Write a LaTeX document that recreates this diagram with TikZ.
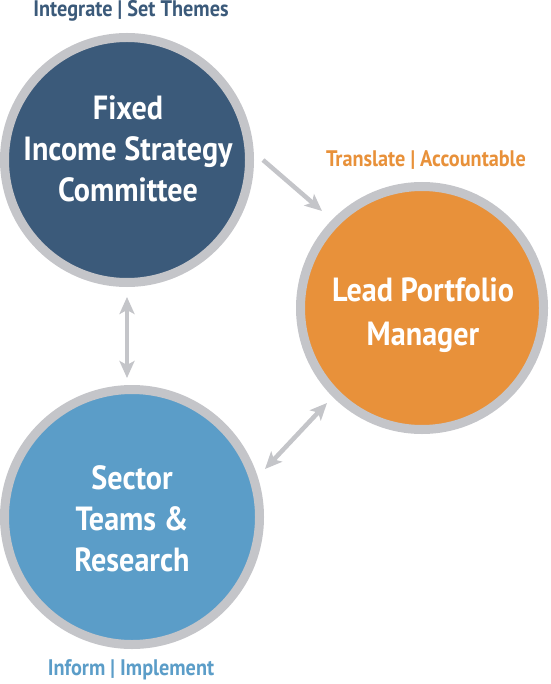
\documentclass[tikz,border=0pt]{standalone}
\usepackage{fontspec}
\setmainfont{PT Sans}[FakeStretch=0.9]
\usetikzlibrary{arrows.meta,calc}
\definecolor{dkblue}{HTML}{3B5A7A}
\definecolor{orng}{HTML}{E8913A}
\definecolor{ltblue}{HTML}{5B9DC8}
\definecolor{ringgray}{HTML}{C4C5C9}
\tikzset{
  circ/.style={circle, draw=ringgray, line width=9pt, inner sep=0pt},
  circtxt/.style={text=white, align=center, inner sep=0pt, font=\bfseries\fontsize{33.5}{41}\selectfont},
  captxt/.style={font=\bfseries\fontsize{22.5}{25}\selectfont, inner sep=0pt},
  conn/.style={draw=ringgray, line width=4.5pt},
  arrowtip/.tip={Stealth[length=17pt,width=15pt,inset=4pt,color=ringgray]}
}
\begin{document}
\begin{tikzpicture}[x=1pt,y=-1pt]
\useasboundingbox (0,0) rectangle (550,684);
% circles (outer radius incl. ring)
\node[circ, fill=dkblue, minimum size=245pt] (fisc) at (127,160) {};
\node[circ, fill=orng, minimum size=243pt] (lpm) at (422,308) {};
\node[circ, fill=ltblue, minimum size=255pt] (str) at (132,517) {};
\node[circtxt] (fisct) at (128,149) {Fixed\\Income Strategy\\Committee};
\node[circtxt, font=\bfseries\fontsize{33.5}{44}\selectfont] (lpmt) at (423,315) {Lead Portfolio\\Manager};
\node[circtxt] (strt) at (132,519) {Sector\\Teams \&\\Research};
% captions
\node[captxt, text=dkblue] (c1) at (131,11) {Integrate | Set Themes};
\node[captxt, text=orng] (c2) at (426,160) {Translate | Accountable};
\node[captxt, text=ltblue] (c3) at (131,670) {Inform | Implement};
% connector ends
\coordinate (a1s) at (263,160);
\coordinate (a1e) at (322,211);
\coordinate (a2s) at (127,297);
\coordinate (a2e) at (127,378);
\coordinate (a3s) at (265,469);
\coordinate (a3e) at (327,403);
\draw[conn, -arrowtip] (a1s) -- (a1e);
\draw[conn, arrowtip-arrowtip] (a2s) -- (a2e);
\draw[conn, arrowtip-arrowtip] (a3s) -- (a3e);
\end{tikzpicture}
\end{document}
